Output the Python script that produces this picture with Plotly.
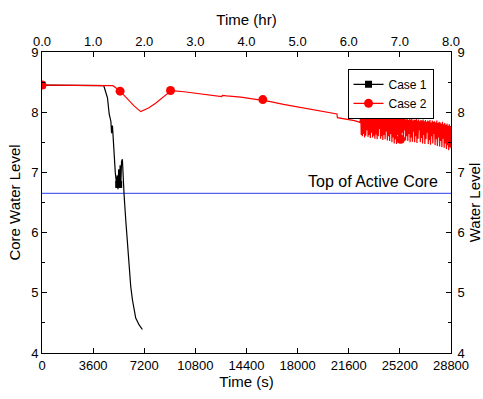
import plotly.graph_objects as go

# ---------------- data ----------------
case1_t = [0, 1000, 2000, 3000, 4000, 4350, 4610, 4730, 4850, 4900, 4960, 5000, 5080, 5160, 5240,
           5300, 5350, 5400, 5450, 5500, 5550, 5600, 5660, 5700, 5780, 5900, 6020, 6130, 6250,
           6370, 6480, 6600, 6830, 7070]
case1_v = [8.45, 8.45, 8.45, 8.45, 8.45, 8.44, 8.24, 7.97, 7.85, 7.65, 7.78, 7.58, 7.25, 7.0, 6.82,
           6.95, 6.72, 7.05, 6.75, 7.12, 6.78, 7.18, 7.22, 6.9, 6.63, 6.2, 5.82, 5.38, 5.1,
           4.88, 4.71, 4.58, 4.47, 4.39]
case1_mark_t = [0, 5400]
case1_mark_v = [8.45, 6.8]

# smooth part of case 2
case2_smooth_t = [0, 1000, 2000, 3000, 4000, 5000, 5500, 6000, 6500, 6950, 7500, 8000, 8500, 9000,
                  9100, 10000, 11000, 12000, 12650, 12700, 13000, 14000, 15000, 15550, 16000, 17000,
                  18000, 19000, 20000, 20770, 20800, 21500, 22000, 22400]
case2_smooth_v = [8.45, 8.45, 8.45, 8.45, 8.45, 8.44, 8.35, 8.22, 8.1, 8.01, 8.07, 8.15, 8.24, 8.33,
                  8.36, 8.34, 8.31, 8.28, 8.26, 8.28, 8.27, 8.25, 8.22, 8.2, 8.18, 8.13,
                  8.09, 8.05, 8.01, 7.97, 7.91, 7.88, 7.86, 7.83]
# oscillating part of case 2
case2_osc_t = [
    22440, 22480, 22520, 22560, 22600, 22640, 22680, 22720, 22760, 22800,
    22840, 22880, 22920, 22960, 23000, 23040, 23080, 23120, 23160, 23200,
    23240, 23280, 23320, 23360, 23400, 23440, 23480, 23520, 23560, 23600,
    23640, 23680, 23720, 23760, 23800, 23840, 23880, 23920, 23960, 24000,
    24040, 24080, 24120, 24160, 24200, 24240, 24280, 24320, 24360, 24400,
    24440, 24480, 24520, 24560, 24600, 24640, 24680, 24720, 24760, 24800,
    24840, 24880, 24920, 24960, 25000, 25040, 25080, 25120, 25160, 25200,
    25240, 25280, 25320, 25360, 25400, 25440, 25480, 25520, 25560, 25600,
    25640, 25680, 25720, 25760, 25800, 25840, 25880, 25920, 25960, 26000,
    26040, 26080, 26120, 26160, 26200, 26240, 26280, 26320, 26360, 26400,
    26440, 26480, 26520, 26560, 26600, 26640, 26680, 26720, 26760, 26800,
    26840, 26880, 26920, 26960, 27000, 27040, 27080, 27120, 27160, 27200,
    27240, 27280, 27320, 27360, 27400, 27440, 27480, 27520, 27560, 27600,
    27640, 27680, 27720, 27760, 27800, 27840, 27880, 27920, 27960, 28000,
    28040, 28080, 28120, 28160, 28200, 28240, 28280, 28320, 28360, 28400,
    28440, 28480, 28520, 28560, 28600, 28640, 28680, 28720, 28760, 28800]
case2_osc_v = [
    8.00, 7.62, 8.01, 7.60, 7.99, 7.64, 8.02, 7.58, 8.00, 7.61,
    7.99, 7.70, 8.00, 7.59, 7.98, 7.62, 8.01, 7.57, 7.99, 7.66,
    7.98, 7.58, 8.00, 7.61, 7.97, 7.56, 7.99, 7.63, 7.98, 7.55,
    7.96, 7.60, 7.98, 7.72, 7.97, 7.56, 7.95, 7.60, 7.97, 7.54,
    7.95, 7.62, 7.96, 7.55, 7.94, 7.68, 7.96, 7.53, 7.93, 7.60,
    7.95, 7.52, 7.93, 7.64, 7.94, 7.50, 7.92, 7.58, 7.93, 7.48,
    7.91, 7.55, 7.93, 7.47, 7.90, 7.62, 7.92, 7.50, 7.89, 7.57,
    7.91, 7.53, 7.90, 7.66, 7.92, 7.55, 7.89, 7.70, 7.90, 7.53,
    7.88, 7.60, 7.91, 7.52, 7.87, 7.64, 7.90, 7.50, 7.88, 7.58,
    7.89, 7.51, 7.86, 7.68, 7.88, 7.50, 7.87, 7.60, 7.89, 7.49,
    7.86, 7.56, 7.88, 7.70, 7.85, 7.50, 7.87, 7.57, 7.86, 7.48,
    7.88, 7.62, 7.85, 7.47, 7.87, 7.55, 7.84, 7.66, 7.86, 7.47,
    7.85, 7.54, 7.87, 7.46, 7.83, 7.60, 7.86, 7.48, 7.84, 7.64,
    7.85, 7.45, 7.83, 7.55, 7.86, 7.44, 7.82, 7.58, 7.84, 7.43,
    7.83, 7.52, 7.81, 7.42, 7.84, 7.56, 7.80, 7.41, 7.82, 7.48,
    7.79, 7.39, 7.81, 7.45, 7.78, 7.37, 7.80, 7.42, 7.77, 7.40]
case2_mark_t = [0, 5500, 9050, 15550, 25250]
case2_mark_v = [8.45, 8.35, 8.36, 8.21, 7.55]

core_top = 6.65
core_label = "Top of Active Core"

x_ticks_s = [0, 3600, 7200, 10800, 14400, 18000, 21600, 25200, 28800]
x_ticks_hr = [0.0, 1.0, 2.0, 3.0, 4.0, 5.0, 6.0, 7.0, 8.0]
y_ticks = [4, 5, 6, 7, 8, 9]

FONT = "Liberation Sans, Arial, sans-serif"

case2_t = case2_smooth_t + case2_osc_t
case2_v = case2_smooth_v + case2_osc_v

fig = go.Figure()

fig.add_trace(go.Scatter(x=[0, 28800], y=[core_top, core_top], mode="lines",
                         line=dict(color="#5263f2", width=1.3), showlegend=False, hoverinfo="skip"))

fig.add_trace(go.Scatter(x=case1_t, y=case1_v, mode="lines",
                         line=dict(color="black", width=1.2), showlegend=False))
fig.add_trace(go.Scatter(x=case1_mark_t, y=case1_mark_v, mode="markers",
                         marker=dict(color="black", symbol="square", size=7), showlegend=False))
fig.add_trace(go.Scatter(x=case2_t, y=case2_v, mode="lines",
                         line=dict(color="red", width=1.2), showlegend=False))
fig.add_trace(go.Scatter(x=case2_mark_t, y=case2_mark_v, mode="markers",
                         marker=dict(color="red", symbol="circle", size=9), showlegend=False))

fig.add_trace(go.Scatter(x=[None], y=[None], mode="lines+markers", name="Case 1",
                         line=dict(color="black", width=1.2),
                         marker=dict(color="black", symbol="square", size=7)))
fig.add_trace(go.Scatter(x=[None], y=[None], mode="lines+markers", name="Case 2",
                         line=dict(color="red", width=1.2),
                         marker=dict(color="red", symbol="circle", size=9)))

fig.add_trace(go.Scatter(x=[0, 8], y=[4, 9], xaxis="x2", yaxis="y2", mode="markers",
                         marker=dict(opacity=0), showlegend=False, hoverinfo="skip"))

axis_common = dict(showline=True, linecolor="black", linewidth=1, ticks="inside", ticklen=5,
                   tickcolor="black", tickwidth=1, showgrid=False, zeroline=False,
                   automargin=False,
                   tickfont=dict(family=FONT, size=13, color="black"))

fig.update_layout(
    width=483, height=399,
    margin=dict(l=42, r=31.5, t=52, b=45.7, pad=0),
    paper_bgcolor="white", plot_bgcolor="white",
    font=dict(family=FONT, color="black"),
    xaxis=dict(range=[0, 28800], tickvals=x_ticks_s, ticktext=[str(v) for v in x_ticks_s],
               title=dict(text="Time (s)", font=dict(family=FONT, size=15), standoff=4),
               **axis_common),
    xaxis2=dict(range=[0, 8], overlaying="x", side="top", tickvals=x_ticks_hr,
                ticktext=[f"{v:.1f}" for v in x_ticks_hr],
                title=dict(text="Time (hr)", font=dict(family=FONT, size=15), standoff=4),
                anchor="y", **axis_common),
    yaxis=dict(range=[4, 9], tickvals=y_ticks,
               title=dict(text="Core Water Level", font=dict(family=FONT, size=15), standoff=6),
               minor=dict(dtick=0.5, ticks="inside", ticklen=3, tickcolor="black"),
               **axis_common),
    yaxis2=dict(range=[4, 9], overlaying="y", side="right", tickvals=y_ticks, anchor="x",
                title=dict(text="Water Level", font=dict(family=FONT, size=15), standoff=10),
                minor=dict(dtick=0.5, ticks="inside", ticklen=3, tickcolor="black"),
                ticklabelstandoff=3,
                **axis_common),
    legend=dict(x=0.747, y=0.944, xanchor="left", yanchor="top",
                bordercolor="black", borderwidth=1, bgcolor="white",
                font=dict(family=FONT, size=12, color="black"),
                tracegroupgap=0, itemwidth=30),
    annotations=[dict(x=27990, y=core_top, xref="x", yref="y", text=core_label,
                      showarrow=False, xanchor="right", yanchor="bottom", yshift=1,
                      font=dict(family=FONT, size=16, color="black"))],
)

fig.write_html("out.html")
